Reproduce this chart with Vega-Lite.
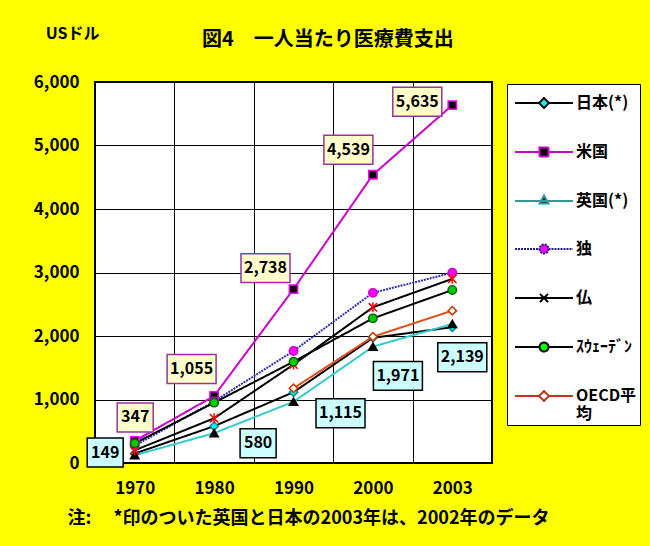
{
  "$schema": "https://vega.github.io/schema/vega-lite/v6.json",
  "width": 397,
  "height": 381,
  "autosize": "none",
  "padding": {"left": 95, "top": 82, "right": 158, "bottom": 83},
  "background": "#FFFF00",
  "title": {"text": "図4　一人当たり医療費支出", "anchor": "start", "frame": "group", "dx": 107, "offset": 0, "dy": 45, "baseline": "bottom", "fontSize": 20, "fontWeight": "bold", "font": "Noto Sans CJK JP", "color": "black"},
  "config": {"font": "Noto Sans CJK JP", "view": {"fill": "white", "stroke": "black", "strokeWidth": 2}},
  "resolve": {"scale": {"shape": "independent", "fill": "independent", "stroke": "independent", "strokeDash": "independent"}},
  "data": {"values": [
    {"series": "日本(*)", "year": "1970", "value": 149},
    {"series": "日本(*)", "year": "1980", "value": 580},
    {"series": "日本(*)", "year": "1990", "value": 1115},
    {"series": "日本(*)", "year": "2000", "value": 1971},
    {"series": "日本(*)", "year": "2003", "value": 2139},
    {"series": "米国", "year": "1970", "value": 347},
    {"series": "米国", "year": "1980", "value": 1055},
    {"series": "米国", "year": "1990", "value": 2738},
    {"series": "米国", "year": "2000", "value": 4539},
    {"series": "米国", "year": "2003", "value": 5635},
    {"series": "英国(*)", "year": "1970", "value": 123},
    {"series": "英国(*)", "year": "1980", "value": 470},
    {"series": "英国(*)", "year": "1990", "value": 965},
    {"series": "英国(*)", "year": "2000", "value": 1832},
    {"series": "英国(*)", "year": "2003", "value": 2190},
    {"series": "独", "year": "1970", "value": 270},
    {"series": "独", "year": "1980", "value": 970},
    {"series": "独", "year": "1990", "value": 1764},
    {"series": "独", "year": "2000", "value": 2680},
    {"series": "独", "year": "2003", "value": 2996},
    {"series": "仏", "year": "1970", "value": 200},
    {"series": "仏", "year": "1980", "value": 704},
    {"series": "仏", "year": "1990", "value": 1550},
    {"series": "仏", "year": "2000", "value": 2452},
    {"series": "仏", "year": "2003", "value": 2900},
    {"series": "ｽｳｪｰﾃﾞﾝ", "year": "1970", "value": 310},
    {"series": "ｽｳｪｰﾃﾞﾝ", "year": "1980", "value": 950},
    {"series": "ｽｳｪｰﾃﾞﾝ", "year": "1990", "value": 1595},
    {"series": "ｽｳｪｰﾃﾞﾝ", "year": "2000", "value": 2278},
    {"series": "ｽｳｪｰﾃﾞﾝ", "year": "2003", "value": 2724},
    {"series": "OECD平均", "year": "1990", "value": 1176},
    {"series": "OECD平均", "year": "2000", "value": 1989},
    {"series": "OECD平均", "year": "2003", "value": 2399}
  ]},
  "encoding": {
    "x": {"field": "year", "type": "ordinal",
      "scale": {"type": "band", "paddingInner": 0, "paddingOuter": 0},
      "axis": {"title": "注:　 *印のついた英国と日本の2003年は、2002年のデータ", "labelAngle": 0, "tickBand": "extent", "grid": true, "gridColor": "black", "gridWidth": 1, "gridOpacity": 1, "domain": false, "ticks": false, "labelFontSize": 17, "labelFontWeight": "bold", "labelColor": "black", "labelPadding": 17, "titleFontSize": 18, "titleFontWeight": "bold", "titleColor": "black", "titleX": -28, "titleY": 55, "titleAlign": "left", "titleBaseline": "middle"}},
    "y": {"field": "value", "type": "quantitative",
      "scale": {"domain": [0, 6000], "nice": false},
      "axis": {"title": "USドル", "titleAngle": 0, "titleX": -23, "titleY": -49, "titleAlign": "center", "titleBaseline": "middle", "titleFontSize": 16, "titleFontWeight": "bold", "titleColor": "black", "values": [0, 1000, 2000, 3000, 4000, 5000, 6000], "format": ",.0f", "grid": true, "gridColor": "black", "gridOpacity": 1, "gridWidth": 1, "domain": false, "ticks": false, "labelFontSize": 17, "labelFontWeight": "bold", "labelColor": "black", "labelPadding": 16}}
  },
  "layer": [
    {"mark": {"type": "line", "strokeWidth": 2},
     "encoding": {
       "color": {"field": "series", "type": "nominal", "scale": {"domain": ["米国", "日本(*)", "英国(*)", "独", "仏", "ｽｳｪｰﾃﾞﾝ", "OECD平均"], "range": ["#CC00CC", "#000000", "#33CCCC", "#3030B0", "#000000", "#000000", "#E0501A"]}, "legend": null},
       "strokeWidth": {"field": "series", "type": "nominal", "scale": {"domain": ["米国", "日本(*)", "英国(*)", "独", "仏", "ｽｳｪｰﾃﾞﾝ", "OECD平均"], "range": [2, 2, 2, 3, 2, 2, 2]}, "legend": null},
       "strokeDash": {"field": "series", "type": "nominal", "scale": {"domain": ["米国", "日本(*)", "英国(*)", "独", "仏", "ｽｳｪｰﾃﾞﾝ", "OECD平均"], "range": [[1, 0], [1, 0], [1, 0], [2, 1], [1, 0], [1, 0], [1, 0]]}, "legend": null}
     }},
    {"mark": {"type": "point", "filled": true, "size": 70, "opacity": 1, "strokeWidth": 1.5},
     "encoding": {
       "shape": {"field": "series", "type": "nominal", "scale": {"domain": ["米国", "日本(*)", "英国(*)", "独", "仏", "ｽｳｪｰﾃﾞﾝ", "OECD平均"], "range": ["square", "diamond", "triangle-up", "circle", "M-1,-1L1,1M1,-1L-1,1M0,-1.2V1.2", "circle", "diamond"]}, "legend": null},
       "stroke": {"field": "series", "type": "nominal", "scale": {"domain": ["米国", "日本(*)", "英国(*)", "独", "仏", "ｽｳｪｰﾃﾞﾝ", "OECD平均"], "range": ["#FF00FF", "#008B8B", "#000000", "#CC00CC", "#FF0000", "#006600", "#CC3300"]}, "legend": null},
       "fill": {"field": "series", "type": "nominal", "scale": {"domain": ["米国", "日本(*)", "英国(*)", "独", "仏", "ｽｳｪｰﾃﾞﾝ", "OECD平均"], "range": ["#000000", "#00FFFF", "#000000", "#FF00FF", "#FF0000", "#00CC00", "#FFFFF0"]}, "legend": null}
     }},
    {"transform": [{"filter": "false"}],
     "mark": {"type": "point", "filled": true, "opacity": 1, "strokeWidth": 2},
     "encoding": {
       "shape": {"field": "series", "type": "nominal", "scale": {"domain": ["日本(*)", "米国", "英国(*)", "独", "仏", "ｽｳｪｰﾃﾞﾝ", "OECD平均"], "range": [
           "M-0.73,0H0.87M1.53,0H3.13M1.2,-0.33L1.53,0L1.2,0.33L0.87,0Z",
           "M-0.73,0H0.9M1.5,0H3.13M0.9,-0.3H1.5V0.3H0.9Z",
           "M-0.73,0H3.13M1.2,-0.37L1.5,0.17H0.9Z",
           "M-0.73,0H0.9M1.5,0H3.13M0.9,0A0.3,0.3,0,1,0,1.5,0A0.3,0.3,0,1,0,0.9,0Z",
           "M-0.73,0H3.13M0.93,-0.27L1.47,0.27M1.47,-0.27L0.93,0.27",
           "M-0.73,0H0.9M1.5,0H3.13M0.9,0A0.3,0.3,0,1,0,1.5,0A0.3,0.3,0,1,0,0.9,0Z",
           "M-0.73,0H0.87M1.53,0H3.13M1.2,-0.33L1.53,0L1.2,0.33L0.87,0Z"]},
         "legend": {"title": null, "orient": "none", "legendX": 412, "legendY": 2, "fillColor": "white", "strokeColor": "black", "padding": 3, "rowPadding": 24, "symbolSize": 900, "symbolStrokeWidth": 2, "labelFontSize": 16, "labelFontWeight": "bold", "labelColor": "black", "labelOffset": 34, "labelLimit": 300,
           "labelExpr": "datum.label === 'OECD平均' ? ['OECD平', '均'] : datum.label",
           "encode": {"labels": {"update": {"dy": {"signal": "datum.label === 'OECD平均' ? 10 : 0"}}}}}},
       "fill": {"field": "series", "type": "nominal", "scale": {"domain": ["日本(*)", "米国", "英国(*)", "独", "仏", "ｽｳｪｰﾃﾞﾝ", "OECD平均"], "range": ["#00FFFF", "#000000", "#000000", "#FF00FF", "#FF0000", "#00FF00", "#FFFFFF"]}},
       "stroke": {"field": "series", "type": "nominal", "scale": {"domain": ["日本(*)", "米国", "英国(*)", "独", "仏", "ｽｳｪｰﾃﾞﾝ", "OECD平均"], "range": ["#000000", "#CC00CC", "#339999", "#1A1A80", "#000000", "#000000", "#C0301A"]}},
       "strokeDash": {"field": "series", "type": "nominal", "scale": {"domain": ["日本(*)", "米国", "英国(*)", "独", "仏", "ｽｳｪｰﾃﾞﾝ", "OECD平均"], "range": [[1, 0], [1, 0], [1, 0], [2, 1], [1, 0], [1, 0], [1, 0]]}}
     }},
    {"transform": [{"filter": "datum.series === '米国' && datum.year === '1970'"}],
     "layer": [
       {"mark": {"type": "point", "shape": "M-0.735,-0.59H0.735V0.59H-0.735Z", "size": 2401, "filled": true, "opacity": 1, "fill": "#FFFFCC", "stroke": "#993399", "strokeWidth": 1.5, "xOffset": 0.5, "yOffset": -23.5}},
       {"mark": {"type": "text", "fontSize": 16, "fontWeight": "bold", "color": "black", "baseline": "middle", "dx": 0.5, "dy": -23.5}, "encoding": {"text": {"field": "value", "type": "quantitative", "format": ","}}}
     ]},
    {"transform": [{"filter": "datum.series === '米国' && datum.year === '1980'"}],
     "layer": [
       {"mark": {"type": "point", "shape": "M-1,-0.59H1V0.59H-1Z", "size": 2401, "filled": true, "opacity": 1, "fill": "#FFFFCC", "stroke": "#993399", "strokeWidth": 1.5, "xOffset": -22.5, "yOffset": -27}},
       {"mark": {"type": "text", "fontSize": 16, "fontWeight": "bold", "color": "black", "baseline": "middle", "dx": -22.5, "dy": -27}, "encoding": {"text": {"field": "value", "type": "quantitative", "format": ","}}}
     ]},
    {"transform": [{"filter": "datum.series === '米国' && datum.year === '1990'"}],
     "layer": [
       {"mark": {"type": "point", "shape": "M-1,-0.59H1V0.59H-1Z", "size": 2401, "filled": true, "opacity": 1, "fill": "#FFFFCC", "stroke": "#993399", "strokeWidth": 1.5, "xOffset": -28, "yOffset": -21}},
       {"mark": {"type": "text", "fontSize": 16, "fontWeight": "bold", "color": "black", "baseline": "middle", "dx": -28, "dy": -21}, "encoding": {"text": {"field": "value", "type": "quantitative", "format": ","}}}
     ]},
    {"transform": [{"filter": "datum.series === '米国' && datum.year === '2000'"}],
     "layer": [
       {"mark": {"type": "point", "shape": "M-1,-0.59H1V0.59H-1Z", "size": 2401, "filled": true, "opacity": 1, "fill": "#FFFFCC", "stroke": "#993399", "strokeWidth": 1.5, "xOffset": -24.5, "yOffset": -25}},
       {"mark": {"type": "text", "fontSize": 16, "fontWeight": "bold", "color": "black", "baseline": "middle", "dx": -24.5, "dy": -25}, "encoding": {"text": {"field": "value", "type": "quantitative", "format": ","}}}
     ]},
    {"transform": [{"filter": "datum.series === '米国' && datum.year === '2003'"}],
     "layer": [
       {"mark": {"type": "point", "shape": "M-1,-0.59H1V0.59H-1Z", "size": 2401, "filled": true, "opacity": 1, "fill": "#FFFFCC", "stroke": "#993399", "strokeWidth": 1.5, "xOffset": -35, "yOffset": -3.5}},
       {"mark": {"type": "text", "fontSize": 16, "fontWeight": "bold", "color": "black", "baseline": "middle", "dx": -35, "dy": -3.5}, "encoding": {"text": {"field": "value", "type": "quantitative", "format": ","}}}
     ]},
    {"transform": [{"filter": "datum.series === '日本(*)' && datum.year === '1970'"}],
     "layer": [
       {"mark": {"type": "point", "shape": "M-0.735,-0.59H0.735V0.59H-0.735Z", "size": 2401, "filled": true, "opacity": 1, "fill": "#CCFFFF", "stroke": "#000000", "strokeWidth": 1.5, "xOffset": -29.5, "yOffset": -1}},
       {"mark": {"type": "text", "fontSize": 16, "fontWeight": "bold", "color": "black", "baseline": "middle", "dx": -29.5, "dy": -1}, "encoding": {"text": {"field": "value", "type": "quantitative", "format": ","}}}
     ]},
    {"transform": [{"filter": "datum.series === '日本(*)' && datum.year === '1980'"}],
     "layer": [
       {"mark": {"type": "point", "shape": "M-0.735,-0.59H0.735V0.59H-0.735Z", "size": 2401, "filled": true, "opacity": 1, "fill": "#CCFFFF", "stroke": "#000000", "strokeWidth": 1.5, "xOffset": 44, "yOffset": 17}},
       {"mark": {"type": "text", "fontSize": 16, "fontWeight": "bold", "color": "black", "baseline": "middle", "dx": 44, "dy": 17}, "encoding": {"text": {"field": "value", "type": "quantitative", "format": ","}}}
     ]},
    {"transform": [{"filter": "datum.series === '日本(*)' && datum.year === '1990'"}],
     "layer": [
       {"mark": {"type": "point", "shape": "M-1,-0.59H1V0.59H-1Z", "size": 2401, "filled": true, "opacity": 1, "fill": "#CCFFFF", "stroke": "#000000", "strokeWidth": 1.5, "xOffset": 47, "yOffset": 21}},
       {"mark": {"type": "text", "fontSize": 16, "fontWeight": "bold", "color": "black", "baseline": "middle", "dx": 47, "dy": 21}, "encoding": {"text": {"field": "value", "type": "quantitative", "format": ","}}}
     ]},
    {"transform": [{"filter": "datum.series === '日本(*)' && datum.year === '2000'"}],
     "layer": [
       {"mark": {"type": "point", "shape": "M-1,-0.59H1V0.59H-1Z", "size": 2401, "filled": true, "opacity": 1, "fill": "#CCFFFF", "stroke": "#000000", "strokeWidth": 1.5, "xOffset": 25, "yOffset": 38}},
       {"mark": {"type": "text", "fontSize": 16, "fontWeight": "bold", "color": "black", "baseline": "middle", "dx": 25, "dy": 38}, "encoding": {"text": {"field": "value", "type": "quantitative", "format": ","}}}
     ]},
    {"transform": [{"filter": "datum.series === '日本(*)' && datum.year === '2003'"}],
     "layer": [
       {"mark": {"type": "point", "shape": "M-1,-0.59H1V0.59H-1Z", "size": 2401, "filled": true, "opacity": 1, "fill": "#CCFFFF", "stroke": "#000000", "strokeWidth": 1.5, "xOffset": 10, "yOffset": 30}},
       {"mark": {"type": "text", "fontSize": 16, "fontWeight": "bold", "color": "black", "baseline": "middle", "dx": 10, "dy": 30}, "encoding": {"text": {"field": "value", "type": "quantitative", "format": ","}}}
     ]}
  ]
}
